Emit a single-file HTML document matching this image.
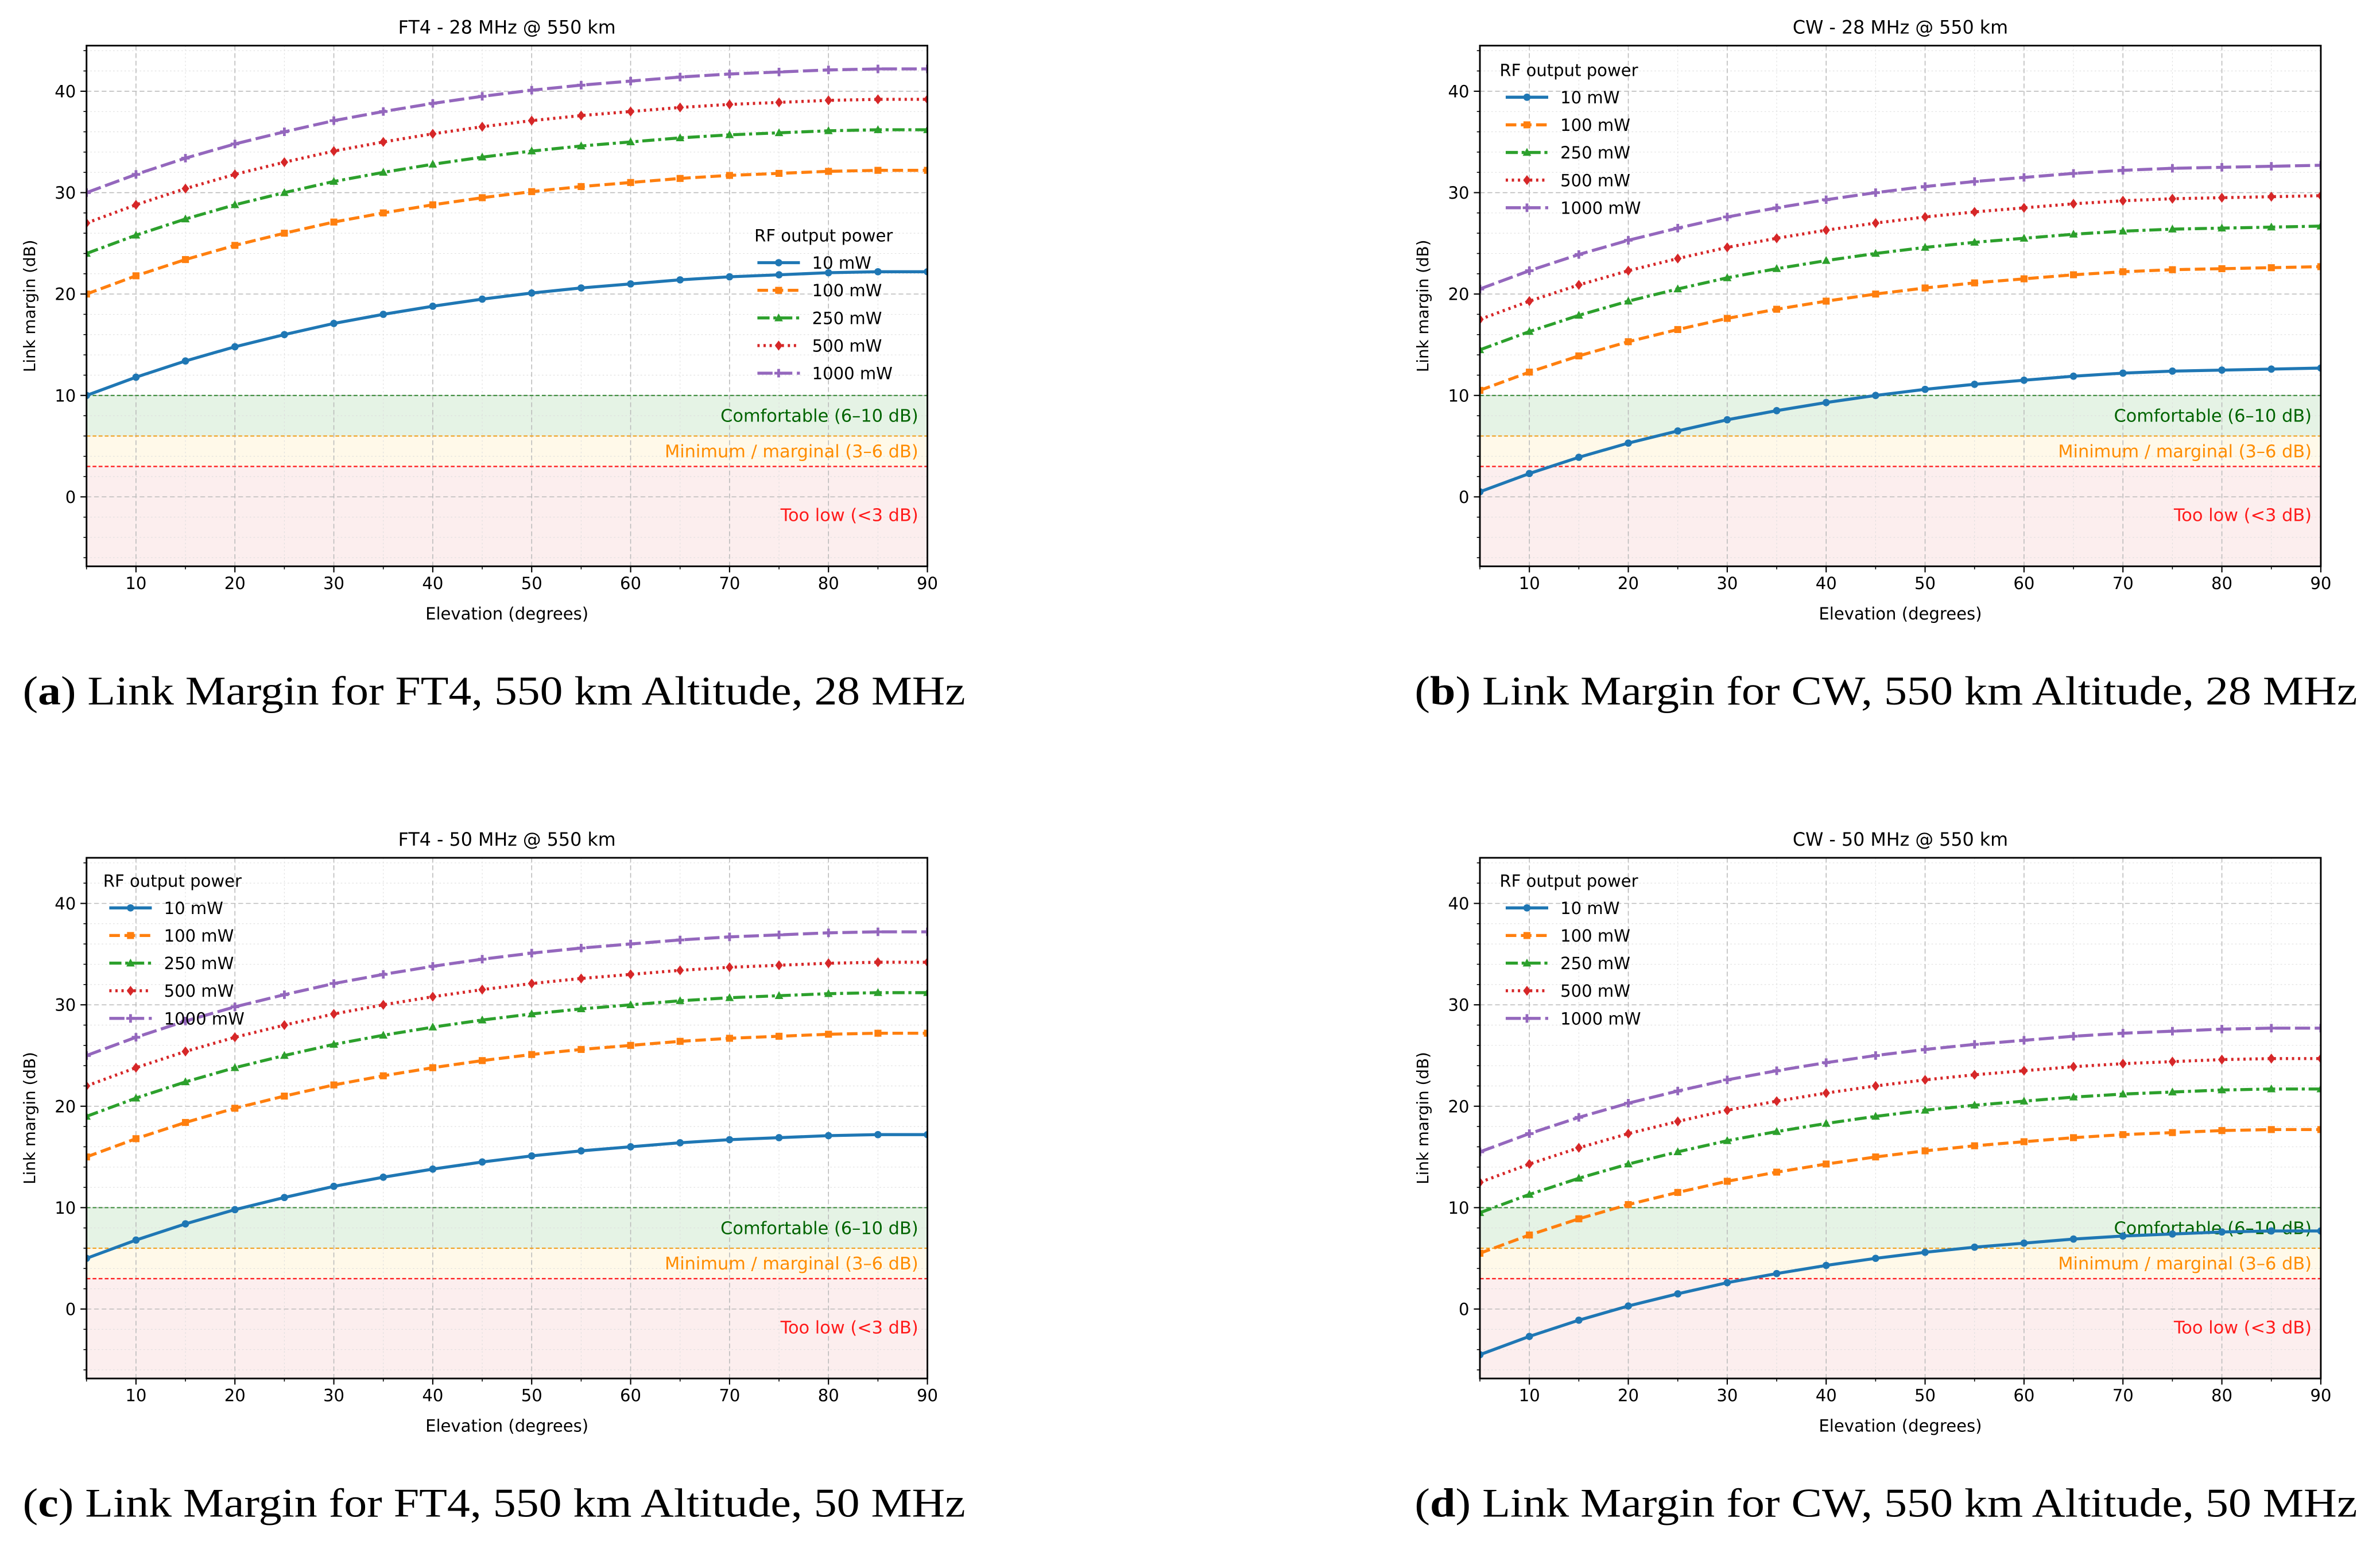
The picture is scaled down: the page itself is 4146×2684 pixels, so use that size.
<!DOCTYPE html>
<html><head><meta charset="utf-8"><style>
html,body{margin:0;padding:0;background:#fff;}
svg{display:block;}
</style></head><body>
<svg id="fig" width="4146" height="2684" viewBox="0 0 1568 1015" xmlns="http://www.w3.org/2000/svg"></svg>
<script>
const elevations = [5,10,15,20,25,30,35,40,45,50,55,60,65,70,75,80,85,90];
const seriesNames = ["10 mW","100 mW","250 mW","500 mW","1000 mW"];
const xTicks = [10,20,30,40,50,60,70,80,90];
const yTicks = [0,10,20,30,40];
// Panel a: FT4 28 MHz
const a10 = [10,11.8,13.4,14.8,16.0,17.1,18.0,18.8,19.5,20.1,20.6,21.0,21.4,21.7,21.9,22.1,22.2,22.2];
const a100 = [20,21.8,23.4,24.8,26.0,27.1,28.0,28.8,29.5,30.1,30.6,31.0,31.4,31.7,31.9,32.1,32.2,32.2];
const a250 = [24,25.8,27.4,28.8,30.0,31.1,32.0,32.8,33.5,34.1,34.6,35.0,35.4,35.7,35.9,36.1,36.2,36.2];
const a500 = [27,28.8,30.4,31.8,33.0,34.1,35.0,35.8,36.5,37.1,37.6,38.0,38.4,38.7,38.9,39.1,39.2,39.2];
const a1000 = [30,31.8,33.4,34.8,36.0,37.1,38.0,38.8,39.5,40.1,40.6,41.0,41.4,41.7,41.9,42.1,42.2,42.2];
// Panel b: CW 28 MHz
const b10 = [0.5,2.3,3.9,5.3,6.5,7.6,8.5,9.3,10.0,10.6,11.1,11.5,11.9,12.2,12.4,12.5,12.6,12.7];
const b100 = [10.5,12.3,13.9,15.3,16.5,17.6,18.5,19.3,20.0,20.6,21.1,21.5,21.9,22.2,22.4,22.5,22.6,22.7];
const b250 = [14.5,16.3,17.9,19.3,20.5,21.6,22.5,23.3,24.0,24.6,25.1,25.5,25.9,26.2,26.4,26.5,26.6,26.7];
const b500 = [17.5,19.3,20.9,22.3,23.5,24.6,25.5,26.3,27.0,27.6,28.1,28.5,28.9,29.2,29.4,29.5,29.6,29.7];
const b1000 = [20.5,22.3,23.9,25.3,26.5,27.6,28.5,29.3,30.0,30.6,31.1,31.5,31.9,32.2,32.4,32.5,32.6,32.7];
// Panel c: FT4 50 MHz
const c10 = [5,6.8,8.4,9.8,11.0,12.1,13.0,13.8,14.5,15.1,15.6,16.0,16.4,16.7,16.9,17.1,17.2,17.2];
const c100 = [15,16.8,18.4,19.8,21.0,22.1,23.0,23.8,24.5,25.1,25.6,26.0,26.4,26.7,26.9,27.1,27.2,27.2];
const c250 = [19,20.8,22.4,23.8,25.0,26.1,27.0,27.8,28.5,29.1,29.6,30.0,30.4,30.7,30.9,31.1,31.2,31.2];
const c500 = [22,23.8,25.4,26.8,28.0,29.1,30.0,30.8,31.5,32.1,32.6,33.0,33.4,33.7,33.9,34.1,34.2,34.2];
const c1000 = [25,26.8,28.4,29.8,31.0,32.1,33.0,33.8,34.5,35.1,35.6,36.0,36.4,36.7,36.9,37.1,37.2,37.2];
// Panel d: CW 50 MHz
const d10 = [-4.5,-2.7,-1.1,0.3,1.5,2.6,3.5,4.3,5.0,5.6,6.1,6.5,6.9,7.2,7.4,7.6,7.7,7.7];
const d100 = [5.5,7.3,8.9,10.3,11.5,12.6,13.5,14.3,15.0,15.6,16.1,16.5,16.9,17.2,17.4,17.6,17.7,17.7];
const d250 = [9.5,11.3,12.9,14.3,15.5,16.6,17.5,18.3,19.0,19.6,20.1,20.5,20.9,21.2,21.4,21.6,21.7,21.7];
const d500 = [12.5,14.3,15.9,17.3,18.5,19.6,20.5,21.3,22.0,22.6,23.1,23.5,23.9,24.2,24.4,24.6,24.7,24.7];
const d1000 = [15.5,17.3,18.9,20.3,21.5,22.6,23.5,24.3,25.0,25.6,26.1,26.5,26.9,27.2,27.4,27.6,27.7,27.7];

const NS="http://www.w3.org/2000/svg";
const svg=document.getElementById('fig');
function mk(tag,attrs,parent){const e=document.createElementNS(NS,tag);for(const k in attrs)e.setAttribute(k,attrs[k]);(parent||svg).appendChild(e);return e;}
const colors=["#1f77b4","#ff7f0e","#2ca02c","#d62728","#9467bd"];
const dashes=["none","7,3","8,2.5,2,2.5","1.5,2.5","10,3"];
const markers=["circle","square","triangle","diamond","plus"];
const FONT='"DejaVu Sans","Liberation Sans",sans-serif';

function marker(g,type,x,y,c){
  if(type==="circle")return mk('circle',{cx:x,cy:y,r:2.4,fill:c},g);
  if(type==="square")return mk('rect',{x:x-2.3,y:y-2.3,width:4.6,height:4.6,fill:c},g);
  if(type==="triangle")return mk('polygon',{points:`${x},${y-3} ${x-2.8},${y+2.2} ${x+2.8},${y+2.2}`,fill:c},g);
  if(type==="diamond")return mk('polygon',{points:`${x},${y-3.3} ${x+2.5},${y} ${x},${y+3.3} ${x-2.5},${y}`,fill:c},g);
  return mk('path',{d:`M${x-2.8},${y}H${x+2.8}M${x},${y-2.8}V${y+2.8}`,stroke:c,'stroke-width':1.8},g);
}

function panel(id,title,caption,capBold,L,T,series,legendPos){
  const W=554,H=343,R=L+W,B=T+H;
  const ymin=-6.85,ymax=44.5,xmin=5,xmax=90;
  const X=v=>L+(v-xmin)/(xmax-xmin)*W;
  const Y=v=>T+(ymax-v)/(ymax-ymin)*H;
  const g=mk('g',{});
  
  
  const red=mk('rect',{x:L,y:Y(3),width:W,height:B-Y(3),fill:'#d62728','fill-opacity':0.08},g);
  
  const org=mk('rect',{x:L,y:Y(6),width:W,height:Y(3)-Y(6),fill:'#ffc010','fill-opacity':0.09},g);
  
  const grn=mk('rect',{x:L,y:Y(10),width:W,height:Y(6)-Y(10),fill:'#2ca02c','fill-opacity':0.12},g);
  
  for(let v=5;v<=90;v+=5){mk('line',{x1:X(v),x2:X(v),y1:T,y2:B,stroke:'#ddd','stroke-width':0.4,'stroke-dasharray':'1,1.5'},g);}
  for(let v=-6;v<=44;v+=2){mk('line',{x1:L,x2:R,y1:Y(v),y2:Y(v),stroke:'#ddd','stroke-width':0.4,'stroke-dasharray':'1,1.5'},g);}
  xTicks.forEach(v=>mk('line',{x1:X(v),x2:X(v),y1:T,y2:B,stroke:'#bbb','stroke-width':0.6,'stroke-dasharray':'3,2'},g));
  yTicks.forEach(v=>mk('line',{x1:L,x2:R,y1:Y(v),y2:Y(v),stroke:'#bbb','stroke-width':0.6,'stroke-dasharray':'3,2'},g));
  mk('line',{x1:L,x2:R,y1:Y(10),y2:Y(10),stroke:'#3a8a3a','stroke-width':0.8,'stroke-dasharray':'2.5,1.5'},g);
  mk('line',{x1:L,x2:R,y1:Y(6),y2:Y(6),stroke:'#f0a020','stroke-width':0.8,'stroke-dasharray':'2.5,1.5'},g);
  mk('line',{x1:L,x2:R,y1:Y(3),y2:Y(3),stroke:'#ff2020','stroke-width':0.9,'stroke-dasharray':'2.5,1.5'},g);
  const t1=mk('text',{x:R-6,y:Y(8)+4,'text-anchor':'end','font-size':11.5,fill:'#006400','font-family':FONT},g);t1.textContent='Comfortable (6–10 dB)';
  
  const t2=mk('text',{x:R-6,y:Y(4.5)+4,'text-anchor':'end','font-size':11.5,fill:'#ff8c00','font-family':FONT},g);t2.textContent='Minimum / marginal (3–6 dB)';
  
  const t3=mk('text',{x:R-6,y:Y(-1.8)+4,'text-anchor':'end','font-size':11.5,fill:'#ff1a1a','font-family':FONT},g);t3.textContent='Too low (<3 dB)';
  
  const cp=mk('clipPath',{id:'clip-'+id},g);mk('rect',{x:L,y:T,width:W,height:H},cp);
  series.forEach((vals,i)=>{
    const sg=mk('g',{'clip-path':`url(#clip-${id})`},g);
    
    
    const pts=vals.map((v,j)=>X(elevations[j]).toFixed(2)+','+Y(v).toFixed(2)).join(' ');
    mk('polyline',{points:pts,fill:'none',stroke:colors[i],'stroke-width':2,'stroke-dasharray':dashes[i]},sg);
    vals.forEach((v,j)=>{const m=marker(sg,markers[i],X(elevations[j]),Y(v),colors[i]);
      });
  });
  mk('rect',{x:L,y:T,width:W,height:H,fill:'none',stroke:'#000','stroke-width':1.1},g);
  xTicks.forEach(v=>{mk('line',{x1:X(v),x2:X(v),y1:B,y2:B+4,stroke:'#000','stroke-width':0.8},g);
    const t=mk('text',{x:X(v),y:B+15,'text-anchor':'middle','font-size':11,'font-family':FONT},g);t.textContent=v;
    });
  for(let v=5;v<=90;v+=5){mk('line',{x1:X(v),x2:X(v),y1:B,y2:B+2,stroke:'#000','stroke-width':0.6},g);}
  yTicks.forEach(v=>{mk('line',{x1:L-4,x2:L,y1:Y(v),y2:Y(v),stroke:'#000','stroke-width':0.8},g);
    const t=mk('text',{x:L-7,y:Y(v)+4,'text-anchor':'end','font-size':11,'font-family':FONT},g);t.textContent=v;
    });
  for(let v=-6;v<=44;v+=2){mk('line',{x1:L-2,x2:L,y1:Y(v),y2:Y(v),stroke:'#000','stroke-width':0.6},g);}
  const xt=mk('text',{x:L+W/2,y:B+35,'text-anchor':'middle','font-size':11,'font-family':FONT},g);xt.textContent='Elevation (degrees)';
  
  const yt=mk('text',{x:0,y:0,'text-anchor':'middle','font-size':10.5,'font-family':FONT,transform:`translate(${L-34},${T+H/2}) rotate(-90)`},g);yt.textContent='Link margin (dB)';
  
  const tt=mk('text',{x:L+W/2,y:T-8,'text-anchor':'middle','font-size':12,'font-family':FONT},g);tt.textContent=title;
  
  const lg=mk('g',{},g);
  
  const lx=legendPos[0],ly=legendPos[1],lo=legendPos[2];
  const lt=mk('text',{x:lx,y:ly+4,'font-size':11,'font-family':FONT},lg);lt.textContent='RF output power';
  seriesNames.forEach((n,i)=>{
    const yy=ly+18+i*18.2;
    const e=mk('g',{},lg);
    
    mk('line',{x1:lx+lo,x2:lx+lo+28,y1:yy,y2:yy,stroke:colors[i],'stroke-width':2,'stroke-dasharray':dashes[i]},e);
    marker(e,markers[i],lx+lo+14,yy,colors[i]);
    const tx=mk('text',{x:lx+lo+36,y:yy+4,'font-size':11,'font-family':FONT},e);tx.textContent=n;
  });
  const cap=mk('text',{x:caption[0],y:caption[1],'font-size':27,'font-family':'"Liberation Serif",serif',textLength:621,lengthAdjust:'spacingAndGlyphs'},svg);
  
  const s1=mk('tspan',{},cap);s1.textContent='(';
  const s2=mk('tspan',{'font-weight':'bold'},cap);s2.textContent=capBold;
  const s3=mk('tspan',{},cap);s3.textContent=') '+caption[2];
}
panel('panel-a','FT4 - 28 MHz @ 550 km',[15,464,'Link Margin for FT4, 550 km Altitude, 28 MHz'],'a',57,30,[a10,a100,a250,a500,a1000],[497,155,2]);
panel('panel-b','CW - 28 MHz @ 550 km',[932,464,'Link Margin for CW, 550 km Altitude, 28 MHz'],'b',975,30,[b10,b100,b250,b500,b1000],[988,46,4]);
panel('panel-c','FT4 - 50 MHz @ 550 km',[15,999,'Link Margin for FT4, 550 km Altitude, 50 MHz'],'c',57,565,[c10,c100,c250,c500,c1000],[68,580,4]);
panel('panel-d','CW - 50 MHz @ 550 km',[932,999,'Link Margin for CW, 550 km Altitude, 50 MHz'],'d',975,565,[d10,d100,d250,d500,d1000],[988,580,4]);
</script>
</body></html>
